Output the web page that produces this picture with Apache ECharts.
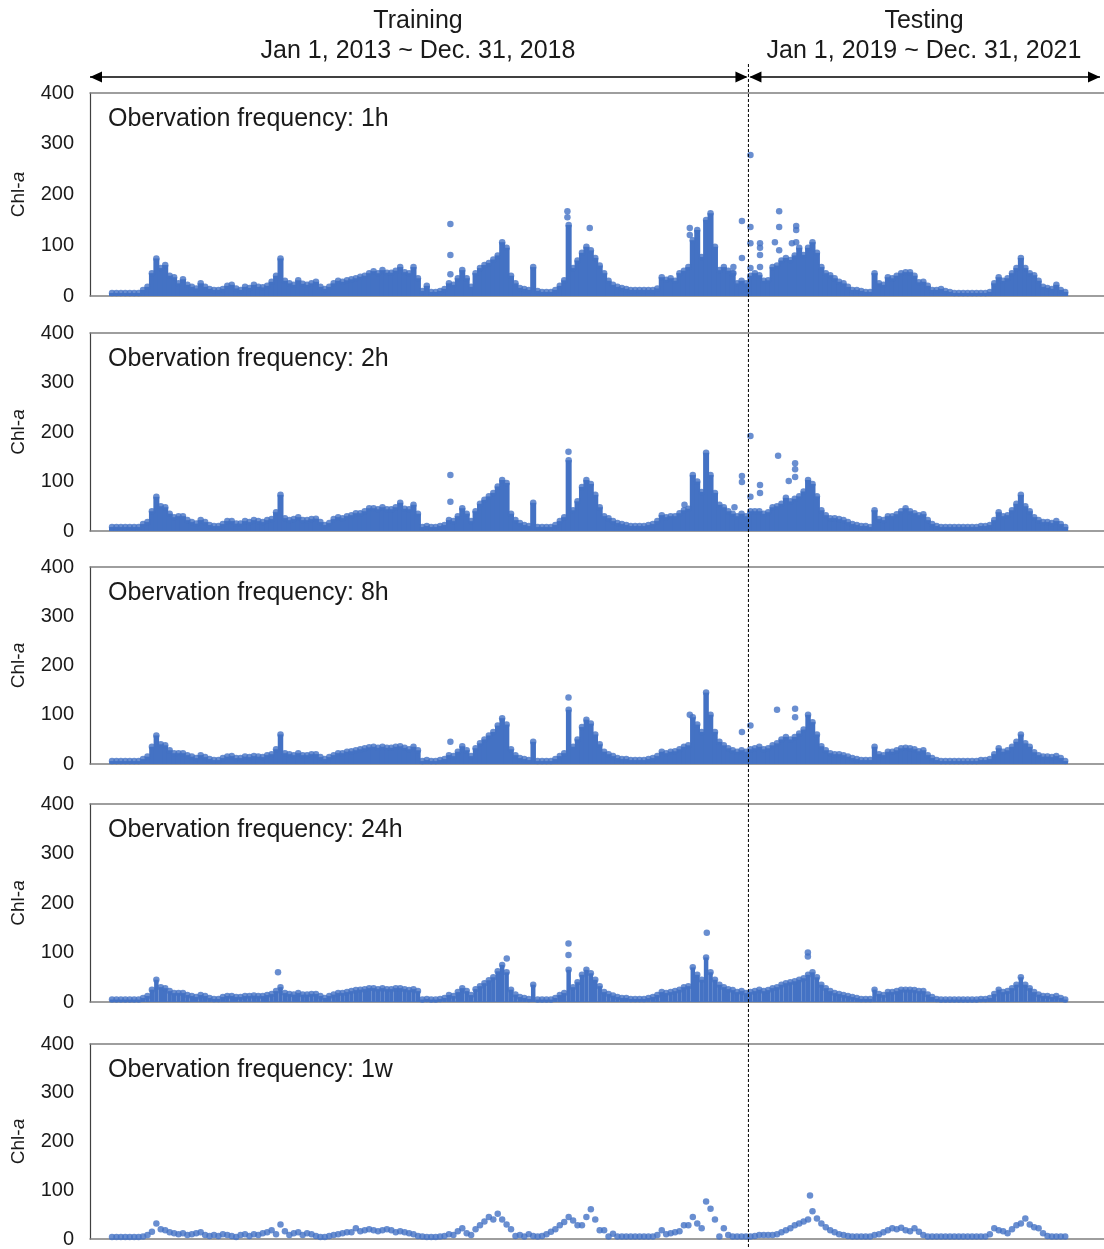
<!DOCTYPE html>
<html>
<head>
<meta charset="utf-8">
<script src="https://cdn.jsdelivr.net/npm/echarts@6/dist/echarts.min.js"></script>
<style>
  html, body { margin: 0; padding: 0; background: #fff; }
  #chart { width: 1104px; height: 1249px; }
</style>
</head>
<body>
<div id="chart"></div>
<script>
// samples every half month, starting Jan 1, 2013
const START_YEAR = 2013;
const STEP = 1 / 24;
const X_MIN = 2012.793;
const X_MAX = 2022.323;
const SPLIT_YEAR = 2019;

const freqLabels = ['1h', '2h', '8h', '24h', '1w'];
const yTicks = [0, 100, 200, 300, 400];

// upper edge of the point cloud, one row per year (2013 ... 2021)
const chl1h = [
  6,6,6,6,6,6,6,12,18,45,74,55,61,40,37,25,33,22,18,15,25,18,14,12,
  12,14,20,22,15,12,18,16,22,18,17,20,28,40,74,30,25,22,31,24,22,25,28,18,
  14,18,25,30,28,31,33,35,38,40,45,49,45,51,46,46,50,57,47,45,57,35,10,20,
  8,8,10,14,25,22,35,51,35,18,45,55,61,65,72,80,106,95,40,25,16,14,12,57,
  10,8,8,8,12,20,31,140,55,70,85,97,90,75,60,45,30,22,18,16,14,12,12,12,
  12,12,12,15,37,32,35,30,45,50,57,110,130,77,150,163,97,51,57,50,45,25,30,25,
  40,45,41,30,31,57,60,70,75,71,80,95,81,95,106,85,57,45,41,35,28,25,18,12,
  12,10,8,8,45,25,22,37,35,40,45,47,47,40,27,28,20,12,12,14,10,8,6,6,
  6,6,6,6,6,6,8,25,37,30,35,45,55,75,55,45,41,30,18,16,14,22,12,8
];
const chl2h = [
  8,8,8,8,8,8,8,14,18,40,69,50,48,35,28,30,30,22,18,15,22,18,12,10,
  10,14,20,20,15,15,20,18,22,20,18,22,24,38,73,26,22,24,28,22,22,24,25,18,
  12,16,24,28,26,30,32,36,36,40,46,46,44,48,44,44,48,57,45,44,53,35,8,10,
  8,8,10,12,22,20,30,46,35,20,40,55,63,70,77,90,103,97,35,22,16,12,10,57,
  8,8,8,8,12,20,28,143,42,60,89,103,95,73,48,30,26,20,16,14,12,10,10,10,
  10,12,14,20,32,28,30,30,36,42,45,113,100,79,158,113,77,53,48,40,35,30,35,30,
  40,40,40,35,38,48,50,55,67,60,65,70,80,103,95,70,42,32,26,26,24,22,18,14,
  12,10,10,8,42,24,22,30,30,34,40,46,40,36,32,34,22,14,10,8,8,8,8,8,
  8,8,8,8,10,10,12,22,38,30,32,42,55,73,50,40,28,22,18,18,16,20,14,8
];
const chl8h = [
  6,6,6,6,6,6,6,10,15,35,58,40,38,28,22,22,22,18,15,12,18,14,10,8,
  8,12,15,16,12,12,15,14,16,15,14,18,20,30,60,22,20,18,22,18,18,20,20,14,
  10,14,18,22,22,25,26,28,30,32,34,35,33,35,33,33,35,36,33,30,35,28,6,8,
  6,6,8,10,18,16,25,36,28,16,32,42,50,58,65,78,93,80,30,18,12,10,8,45,
  6,6,6,6,10,16,22,110,35,50,75,90,82,60,40,25,20,16,12,10,10,8,8,8,
  8,10,12,16,25,22,25,26,30,35,38,95,80,65,145,100,65,45,38,32,28,25,28,25,
  30,32,35,30,32,38,42,50,55,50,55,62,70,100,85,60,36,28,22,20,20,18,15,12,
  10,8,8,8,35,20,18,25,25,28,32,33,32,30,26,28,18,12,8,6,6,6,6,6,
  6,6,6,6,8,8,10,20,32,25,28,35,45,60,42,35,24,18,15,15,14,16,12,6
];
const chl24h = [
  5,5,5,5,5,5,5,8,12,25,45,30,28,22,18,18,18,14,12,10,14,12,8,6,
  6,10,12,12,10,10,12,12,13,12,12,14,16,22,30,18,16,15,18,15,15,16,16,12,
  8,12,15,18,18,20,22,24,25,26,28,28,26,28,26,26,28,28,26,24,26,22,5,6,
  5,5,6,8,14,12,20,28,22,14,26,32,38,44,50,62,75,60,25,15,10,8,6,35,
  5,5,5,5,8,14,18,65,30,40,55,65,58,45,32,20,16,13,10,8,8,6,6,6,
  6,8,10,14,20,18,20,22,25,30,32,70,55,45,90,60,45,35,30,26,24,20,22,18,
  20,22,25,22,24,28,30,35,38,40,42,45,48,55,60,50,35,28,22,18,16,14,12,10,
  8,6,6,6,25,16,14,20,20,22,25,25,25,24,22,22,15,10,6,5,5,5,5,5,
  5,5,5,5,6,6,8,16,25,20,22,28,35,50,35,28,20,15,12,12,10,12,8,5
];
const chl1w = [
  4,4,4,4,4,4,4,5,8,15,32,20,18,14,12,10,12,8,10,12,14,8,6,8,
  6,10,8,6,4,8,10,6,10,8,12,14,18,10,30,16,8,12,14,8,12,10,6,4,
  4,6,8,10,12,14,14,22,16,18,20,18,16,18,20,18,14,16,14,12,10,6,5,4,
  4,4,5,6,10,8,16,22,12,8,20,28,36,45,40,52,40,30,20,6,8,5,10,6,
  5,6,10,15,20,28,35,45,38,28,28,45,61,40,18,18,5,11,5,5,5,5,5,5,
  5,5,5,8,18,10,12,14,16,28,28,45,32,22,77,62,40,5,22,8,5,5,5,5,
  5,6,8,8,8,8,10,14,18,22,28,32,36,40,57,42,32,24,18,14,10,8,6,5,
  5,5,5,5,8,10,14,18,22,20,23,18,16,22,15,8,5,5,5,5,5,5,5,5,
  5,5,5,5,5,5,10,22,18,16,12,20,28,32,42,30,24,22,12,6,5,5,5,5
];

// isolated high readings [year, Chl-a]
const out1h = [
  [2016.18,142],[2016.18,81],[2016.18,43],[2017.28,167],[2017.28,155],[2017.49,134],
  [2018.43,134],[2018.43,120],[2018.84,57],[2018.84,45],[2018.92,148],[2018.92,75],
  [2019.0,278],[2019.0,136],[2019.0,104],[2019.0,55],[2019.09,104],[2019.09,95],
  [2019.09,81],[2019.09,57],[2019.23,106],[2019.27,167],[2019.27,136],[2019.27,90],
  [2019.39,104],[2019.43,138],[2019.43,130],[2019.43,106]
];
const out2h = [
  [2016.18,113],[2016.18,59],[2017.29,160],[2018.38,53],[2018.85,48],[2018.92,111],
  [2018.92,99],[2019.0,192],[2019.0,69],[2019.09,93],[2019.09,77],[2019.26,152],
  [2019.36,101],[2019.42,137],[2019.42,125],[2019.42,109]
];
const out8h = [
  [2016.18,45],[2017.29,135],[2018.43,100],[2018.92,65],[2019.0,78],
  [2019.25,110],[2019.42,112],[2019.42,95]
];
const out24h = [
  [2014.56,60],[2016.71,88],[2017.29,118],[2017.29,95],[2018.59,140],
  [2019.54,100],[2019.54,92]
];
const out1w = [[2019.56,89]];

const envelopes = [chl1h, chl2h, chl8h, chl24h, chl1w];
const outliers = [out1h, out2h, out8h, out24h, out1w];

const BLUE = '#4472C4';
const AXIS_GRAY = '#7f7f7f';
const FONT = 'Liberation Sans, Arial, sans-serif';
const gridTops = [93, 333, 567, 804, 1044];
const gridHeights = [203, 198, 197, 198, 197];
const columnWidths = [6, 6, 5.5, 4.5, 0];

function toXY(values) {
  return values.map((v, i) => [START_YEAR + i * STEP, v]);
}

// filled column from 0 up to the sampled top of the point cloud
function columnRenderer(w) {
  return function (params, api) {
    const top = api.coord([api.value(0), api.value(1)]);
    const base = api.coord([api.value(0), 0]);
    return {
      type: 'rect',
      shape: { x: top[0] - w / 2, y: top[1], width: w, height: base[1] - top[1] },
      style: { fill: BLUE }
    };
  };
}

const grids = [], xAxes = [], yAxes = [], series = [], titles = [];
freqLabels.forEach((f, k) => {
  grids.push({ left: 90, right: 0, top: gridTops[k], height: gridHeights[k] });
  // bottom axis carries the data, top axis only draws the 400 line
  ['bottom', 'top'].forEach(pos => {
    xAxes.push({
      type: 'value', gridIndex: k, position: pos, min: X_MIN, max: X_MAX,
      axisLine: { show: true, onZero: false, lineStyle: { color: AXIS_GRAY, width: 1.5 } },
      axisTick: { show: false }, axisLabel: { show: false }, splitLine: { show: false }
    });
  });
  yAxes.push({
    type: 'value', gridIndex: k, min: yTicks[0], max: yTicks[yTicks.length - 1], interval: 100,
    axisLine: { show: true, lineStyle: { color: '#404040', width: 1.2 } },
    axisTick: { show: false }, splitLine: { show: false },
    axisLabel: { fontSize: 20, color: '#1a1a1a', fontFamily: FONT, margin: 16 },
    name: '{n|Chl-}{i|a}', nameLocation: 'middle', nameGap: 62, nameRotate: 90,
    nameTextStyle: {
      rich: {
        n: { fontSize: 19, color: '#1a1a1a', fontFamily: FONT },
        i: { fontSize: 19, color: '#1a1a1a', fontFamily: FONT, fontStyle: 'italic' }
      }
    }
  });
  titles.push({
    text: 'Obervation frequency: ' + f, left: 103, top: gridTops[k] + 9,
    textStyle: { fontSize: 25, fontWeight: 'normal', color: '#1a1a1a', fontFamily: FONT }
  });
  if (columnWidths[k] > 0) {
    series.push({
      type: 'custom', xAxisIndex: 2 * k, yAxisIndex: k, data: toXY(envelopes[k]),
      encode: { x: 0, y: 1 }, renderItem: columnRenderer(columnWidths[k]),
      silent: true, animation: false
    });
  }
  series.push({
    type: 'scatter', xAxisIndex: 2 * k, yAxisIndex: k, data: toXY(envelopes[k]),
    symbolSize: 6.5, itemStyle: { color: BLUE }, silent: true, animation: false
  });
  series.push({
    type: 'scatter', xAxisIndex: 2 * k, yAxisIndex: k, data: outliers[k],
    symbolSize: 6.5, itemStyle: { color: BLUE }, silent: true, animation: false
  });
});

const chart = echarts.init(document.getElementById('chart'), null, { renderer: 'canvas' });
chart.setOption({
  backgroundColor: '#fff',
  animation: false,
  title: titles,
  grid: grids,
  xAxis: xAxes,
  yAxis: yAxes,
  series: series
});

// period arrows, headings and the train/test split line
const xLeft = chart.convertToPixel({ xAxisIndex: 0 }, X_MIN);
const xSplit = chart.convertToPixel({ xAxisIndex: 0 }, SPLIT_YEAR) - 2;
const xRight = 1100;
const arrowY = 77;
function head(x, dir) {
  return { type: 'polygon', shape: { points: [[x, arrowY], [x - dir * 12, arrowY - 5.5], [x - dir * 12, arrowY + 5.5]] },
           style: { fill: '#000' } };
}
function label(text, x, y) {
  return { type: 'text', x: x, y: y,
           style: { text: text, fontSize: 25, fill: '#1a1a1a', fontFamily: FONT, align: 'center', verticalAlign: 'middle' } };
}
chart.setOption({
  graphic: [
    { type: 'line', shape: { x1: xLeft, y1: arrowY, x2: xSplit - 2, y2: arrowY }, style: { stroke: '#000', lineWidth: 1.3 } },
    { type: 'line', shape: { x1: xSplit + 2, y1: arrowY, x2: xRight, y2: arrowY }, style: { stroke: '#000', lineWidth: 1.3 } },
    head(xLeft, -1), head(xSplit - 1, 1), head(xSplit + 1, -1), head(xRight, 1),
    { type: 'line', shape: { x1: xSplit, y1: 64, x2: xSplit, y2: 1249 },
      style: { stroke: '#000', lineWidth: 1, lineDash: [3, 2] }, z: 100 },
    label('Training', (xLeft + 746) / 2, 21),
    label('Jan 1, 2013 ~ Dec. 31, 2018', (xLeft + 746) / 2, 51),
    label('Testing', 924, 21),
    label('Jan 1, 2019 ~ Dec. 31, 2021', 924, 51)
  ]
});
</script>
</body>
</html>
